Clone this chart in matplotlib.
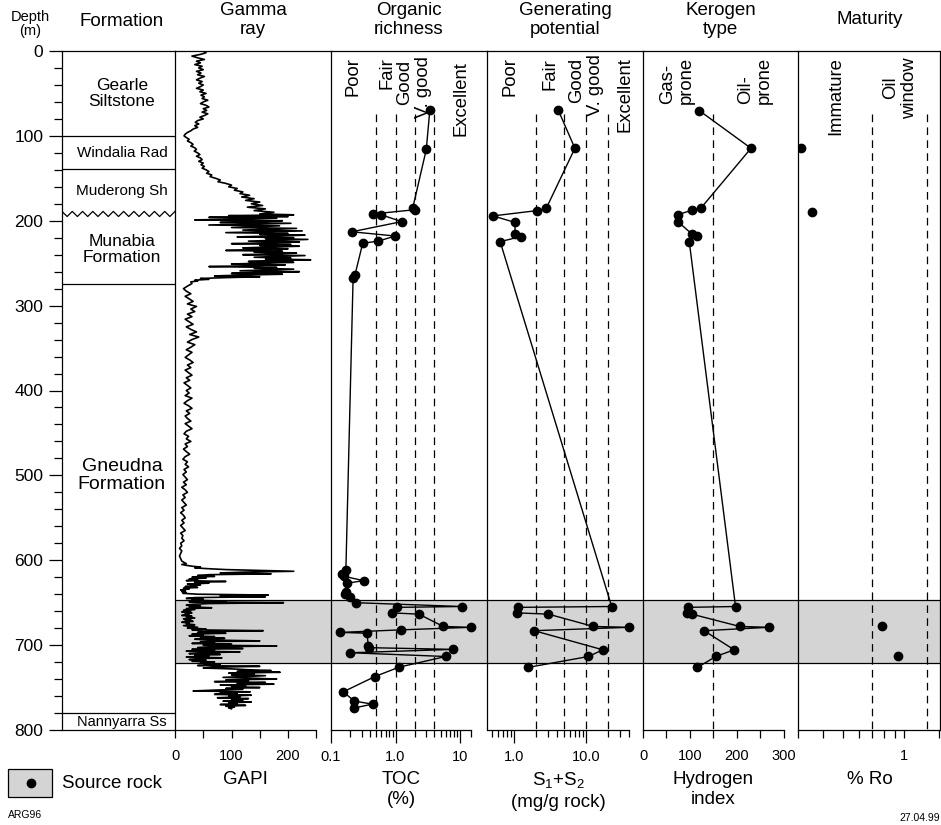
import numpy as np
import matplotlib.pyplot as plt
from matplotlib.patches import Rectangle
from matplotlib.lines import Line2D

plt.rcParams['font.family'] = ['Liberation Sans', 'DejaVu Sans']
plt.rcParams['mathtext.fontset'] = 'custom'
plt.rcParams['mathtext.rm'] = 'Liberation Sans'
plt.rcParams['lines.scale_dashes'] = False

# ---------------- data ----------------
formation_names = ['Gearle\nSiltstone', 'Windalia Rad', 'Muderong Sh',
                   'Munabia\nFormation', 'Gneudna\nFormation', 'Nannyarra Ss']
formation_tops = [0, 100, 139, 192, 275, 780]
formation_label_depth = [50, 120, 165, 234, 500, 790]
formation_font = [12.5, 11, 11, 12.5, 14, 10.5]
unconformity_depth = 192

source_rock_top, source_rock_base = 647, 721

# gamma ray log (GAPI), sampled in blocks: (start depth, step, values)
gr_a_start, gr_a_step = 0, 2
gr_a = [50, 55, 45, 30, 40, 52, 38, 45, 35, 48, 42, 50, 38, 46, 40, 52, 44, 38, 48, 42,
        50, 45, 38, 50, 44, 55, 46, 52, 48, 58, 50, 45, 55, 60, 50, 56, 48, 58, 52, 44,
        50, 40, 36, 42, 35, 40, 32, 28, 22, 18, 16, 20, 25, 22, 28, 32, 28, 35, 38, 34,
        40, 44, 38, 45, 48, 42, 50, 46, 52, 48, 55, 60, 56, 65, 62, 72, 80, 76, 90, 100,
        95, 110, 105, 120, 115, 132, 118, 140, 125, 150, 135, 155, 128, 160, 140, 175, 150]
gr_b_start, gr_b_step = 193, 1
gr_b = [210, 95, 200, 60, 180, 120, 35, 190, 150, 80, 205, 130, 60, 185, 140, 100, 215, 170,
        120, 225, 160, 90, 200, 150, 230, 175, 110, 210, 160, 235, 180, 130, 220, 170, 100,
        205, 150, 220, 165, 120, 200, 150, 90, 190, 140, 215, 175, 120, 230, 185, 140, 205,
        160, 240, 170, 130, 210, 150, 100, 195, 135, 60, 180, 140, 210, 160, 115, 220, 150,
        100, 190, 120, 70, 150, 90, 45, 60, 35, 40, 28]
gr_c_start, gr_c_step = 274, 3
gr_c = [30, 22, 15, 20, 28, 18, 25, 32, 22, 38, 28, 35, 22, 30, 18, 25, 32, 20, 28, 38,
        26, 42, 30, 22, 35, 28, 20, 30, 24, 18, 26, 32, 22, 28, 18, 24, 30, 20, 26, 16,
        22, 28, 20, 25, 18, 30, 22, 16, 24, 30, 20, 26, 18, 22, 28, 18, 24, 30, 20, 16,
        24, 20, 28, 18, 22, 15, 20, 26, 18, 14, 22, 18, 24, 16, 20, 14, 18, 22, 15, 20,
        12, 18, 22, 14, 18, 12, 16, 20, 12, 16, 10, 15, 18, 12, 16, 10, 14, 18, 10, 14,
        12, 16, 10, 12, 8, 12, 10, 8, 10, 12, 20]
gr_d_start, gr_d_step = 605, 1
gr_d = [12, 20, 30, 45, 35, 60, 90, 150, 210, 120, 80, 170, 60, 40, 70, 30, 55, 25, 40, 20,
        90, 35, 60, 22, 45, 30, 18, 40, 15, 25, 10, 18, 12, 20, 14, 40, 165, 80, 160, 35,
        20, 50, 30, 90, 25, 192, 60, 30, 20, 45, 25, 65, 20, 35, 15, 28, 12, 30, 18, 25,
        12, 30, 20, 35, 15, 28, 18, 32, 12, 25, 20, 35, 15, 28, 40, 22, 55, 30, 156, 60,
        40, 90, 30, 50, 25, 70, 45, 88, 35, 60, 150, 45, 70, 30, 100, 50, 180, 60, 40, 120,
        30, 70, 20, 115, 45, 25, 80, 35, 60, 20, 83, 40, 25, 55, 30, 70, 45, 60, 80, 40,
        150, 70, 50, 100, 130, 170, 110, 186, 95, 140, 100, 160, 120, 85, 140, 180, 90, 130,
        70, 160, 110, 175, 80, 125, 100, 150, 90, 120, 70, 32, 133, 80, 110, 70, 135, 95,
        115, 75, 130, 100, 120, 85, 135, 95, 110, 80, 125, 90, 105, 95, 100]

# organic richness, TOC (%)
toc_depth = [70, 116, 185, 187, 192, 193, 201, 213, 218, 224, 226.5, 264, 268,
             612, 616, 619, 624, 627, 637, 640, 643, 650,
             654.5, 655.5, 662, 663.5, 678, 679, 682, 685, 686, 701, 703, 705,
             709, 713.4, 726, 737, 755, 766, 769.5, 774]
toc = [3.4, 3.0, 1.85, 2.0, 0.45, 0.6, 1.25, 0.21, 0.99, 0.54, 0.31, 0.235, 0.22,
       0.17, 0.15, 0.16, 0.32, 0.18, 0.17, 0.165, 0.2, 0.24,
       10.6, 1.07, 0.87, 2.3, 5.5, 14.7, 1.22, 0.14, 0.36, 0.38, 0.39, 7.9,
       0.2, 6.0, 1.13, 0.48, 0.155, 0.23, 0.44, 0.23]
toc_limits = [0.5, 1, 2, 4]
toc_classes = ['Poor', 'Fair', 'Good', 'V. good', 'Excellent']

# generating potential, S1+S2 (mg/g rock)
s12_depth = [69.5, 114.6, 185.3, 188, 194.3, 202, 216, 218.7, 224.6,
             654.5, 655.5, 662, 663.5, 678, 679, 683, 705.5, 713.4, 726.3]
s12 = [4.1, 7.0, 2.8, 2.1, 0.51, 1.03, 1.03, 1.24, 0.64,
       22.7, 1.13, 1.09, 3.0, 12.6, 39.2, 1.9, 17.1, 10.8, 1.55]
s12_limits = [2, 5, 10, 20]
s12_classes = ['Poor', 'Fair', 'Good', 'V. good', 'Excellent']

# kerogen type, hydrogen index
hi_depth = [70.3, 114.6, 185.3, 187.3, 193, 201, 215.5, 218, 224.6,
            654.5, 655.5, 661.6, 663.5, 678, 679, 683, 705.5, 713.4, 726.3]
hi = [120, 230, 123, 105, 74, 74, 104, 114, 98.5,
      197, 95, 93, 104, 206, 268, 130, 194, 155, 116]
hi_limit = 150

# maturity, vitrinite reflectance (% Ro)
ro_depth = [114, 190, 678, 713]
ro = [0.31, 0.35, 0.78, 0.94]
ro_limits = [0.7, 1.3]

# ---------------- figure ----------------
W, H = 941, 825
TOP, BOT = 51, 730
fig = plt.figure(figsize=(W / 100, H / 100), dpi=100)


def fx(px):
    return px / W


def fy(py):
    return 1 - py / H


def panel(x0, x1):
    return fig.add_axes([fx(x0), fy(BOT), (x1 - x0) / W, (BOT - TOP) / H])


LW = 0.9
GREY = '#d4d4d4'
DASH = (0, (5.5, 3.8))

ax_f = panel(62, 175)
ax_g = panel(175, 331)
ax_t = panel(331, 487)
ax_s = panel(487, 643)
ax_h = panel(643, 798)
ax_r = panel(798, 940)
tracks = [ax_g, ax_t, ax_s, ax_h, ax_r]

for ax in [ax_f] + tracks:
    ax.set_ylim(800, 0)
    ax.patch.set_alpha(0)
    for s in ax.spines.values():
        s.set_linewidth(LW)
    ax.spines['right'].set_visible(ax is ax_r)
    ax.tick_params(axis='x', which='both', direction='out', width=LW,
                   labelsize=10.5, pad=8)
    if ax is not ax_f:
        ax.set_yticks([])

for ax in tracks:
    ax.axhspan(source_rock_top, source_rock_base, facecolor=GREY,
               edgecolor='none', zorder=0)
    ax.axhline(source_rock_top, color='k', lw=LW, zorder=1)
    ax.axhline(source_rock_base, color='k', lw=LW, zorder=1)

# depth axis + formation column
ax_f.set_xlim(0, 1)
ax_f.set_xticks([])
ax_f.set_yticks(range(0, 801, 100))
ax_f.set_yticks(range(0, 801, 20), minor=True)
ax_f.tick_params(axis='y', which='major', length=9.5, width=LW, labelsize=12.5, pad=4)
ax_f.tick_params(axis='y', which='minor', length=6, width=LW)
for top in formation_tops[1:]:
    if top == unconformity_depth:
        continue
    ax_f.axhline(top, color='k', lw=LW)
zig_x = np.linspace(0, 1, 23)
zig_y = unconformity_depth + np.where(np.arange(23) % 2 == 0, -3, 3)
ax_f.plot(zig_x, zig_y, color='k', lw=LW)
for name, d, fs in zip(formation_names, formation_label_depth, formation_font):
    ax_f.text(0.53, d, name, ha='center', va='center', fontsize=fs, linespacing=1.05)

# gamma ray
gr_depth = np.concatenate([gr_a_start + gr_a_step * np.arange(len(gr_a)),
                           gr_b_start + gr_b_step * np.arange(len(gr_b)),
                           gr_c_start + gr_c_step * np.arange(len(gr_c)),
                           gr_d_start + gr_d_step * np.arange(len(gr_d))])
gr = np.concatenate([gr_a, gr_b, gr_c, gr_d])
ax_g.plot(gr, gr_depth, color='k', lw=1.2, zorder=3)
ax_g.set_xlim(0, 276)
ax_g.spines['bottom'].set_bounds(0, 250)
ax_g.set_xticks([0, 100, 200])
ax_g.set_xticks([50, 150, 250], minor=True)
ax_g.tick_params(axis='x', which='both', length=6)

# TOC
ax_t.set_xscale('log')
ax_t.set_xlim(0.1, 26.2)
ax_t.spines['bottom'].set_bounds(0.1, 15)
ax_t.set_xticks([0.1, 1, 10])
ax_t.set_xticklabels(['0.1', '1.0', '10'])
ax_t.set_xticks([v * m for m in (0.1, 1) for v in range(2, 10)] + [15], minor=True)
ax_t.xaxis.set_minor_formatter(plt.NullFormatter())
ax_t.tick_params(axis='x', which='major', length=9, pad=5.5)
ax_t.tick_params(axis='x', which='minor', length=5)
for v in toc_limits:
    ax_t.plot([v, v], [74, 800], color='k', lw=LW, ls=DASH, zorder=2)
ax_t.plot(toc, toc_depth, '-o', color='k', lw=1.0, ms=6, zorder=4)

# S1+S2
ax_s.set_xscale('log')
ax_s.set_xlim(0.42, 61.9)
ax_s.spines['bottom'].set_bounds(0.44, 40)
ax_s.set_xticks([1, 10])
ax_s.set_xticklabels(['1.0', '10.0'])
ax_s.set_xticks([0.5, 0.6, 0.7, 0.8, 0.9] + list(range(2, 10)) + [20, 30, 40], minor=True)
ax_s.xaxis.set_minor_formatter(plt.NullFormatter())
ax_s.tick_params(axis='x', which='major', length=9, pad=5.5)
ax_s.tick_params(axis='x', which='minor', length=5)
for v in s12_limits:
    ax_s.plot([v, v], [74, 800], color='k', lw=LW, ls=DASH, zorder=2)
ax_s.plot(s12, s12_depth, '-o', color='k', lw=1.0, ms=6, zorder=4)

# hydrogen index
ax_h.set_xlim(0, 330)
ax_h.spines['bottom'].set_bounds(0, 300)
ax_h.set_xticks([0, 100, 200, 300])
ax_h.set_xticks([50, 150, 250], minor=True)
ax_h.tick_params(axis='x', which='both', length=6)
ax_h.plot([hi_limit, hi_limit], [74, 800], color='k', lw=LW, ls=DASH, zorder=2)
ax_h.plot(hi, hi_depth, '-o', color='k', lw=1.0, ms=6, zorder=4)

# vitrinite reflectance
ax_r.set_xscale('log')
ax_r.set_xlim(0.3, 1.51)
ax_r.set_xticks([1])
ax_r.set_xticklabels(['1'])
ax_r.set_xticks([0.3, 0.4, 0.5, 0.6, 0.7, 0.8, 0.9, 1.5], minor=True)
ax_r.xaxis.set_minor_formatter(plt.NullFormatter())
ax_r.tick_params(axis='x', which='both', length=6)
for v in ro_limits:
    ax_r.plot([v, v], [74, 800], color='k', lw=LW, ls=DASH, zorder=2)
ax_r.plot(ro, ro_depth, 'o', color='k', ms=6, zorder=4)

# column headers
fig.text(fx(30), fy(24), 'Depth\n(m)', ha='center', va='center', fontsize=10.5,
         linespacing=1.05)
fig.text(fx(122), fy(21), 'Formation', ha='center', va='center', fontsize=13.5)
for xc, txt in [(253, 'Gamma\nray'), (409, 'Organic\nrichness'),
                (565, 'Generating\npotential'), (720.5, 'Kerogen\ntype'),
                (869.5, 'Maturity')]:
    fig.text(fx(xc), fy(20), txt, ha='center', va='center', fontsize=13.5)

# class labels
for (xc, yc), txt in zip([(353, 76.5), (387, 73.5), (405, 82), (423, 87), (461, 98.5)],
                         toc_classes):
    fig.text(fx(xc), fy(yc), txt, rotation=90, ha='center', va='center', fontsize=13.3)
for (xc, yc), txt in zip([(510, 76.5), (550, 74), (577, 80.5), (596, 85), (625, 95)],
                         s12_classes):
    fig.text(fx(xc), fy(yc), txt, rotation=90, ha='center', va='center', fontsize=13.3)
fig.text(fx(677), fy(80), 'Gas-\nprone', rotation=90, ha='center', va='center',
         fontsize=13.3, multialignment='left', linespacing=1.1)
fig.text(fx(755), fy(80.5), 'Oil-\nprone', rotation=90, ha='center', va='center',
         fontsize=13.3, multialignment='left', linespacing=1.1)
fig.text(fx(836), fy(96), 'Immature', rotation=90, ha='center', va='center', fontsize=13.3)
fig.text(fx(900), fy(88), 'Oil\nwindow', rotation=90, ha='center', va='center',
         fontsize=13.3, multialignment='center', linespacing=1.1)

# axis titles
for xc, txt in [(245.6, 'GAPI'), (401.5, 'TOC\n(%)'), (558, 'S$_1$+S$_2$\n(mg/g rock)'),
                (713.5, 'Hydrogen\nindex'), (869.5, '% Ro')]:
    fig.text(fx(xc), fy(771), txt, ha='center', va='top', fontsize=13.5)

# legend
fig.add_artist(Rectangle((fx(8), fy(797)), 44 / W, 28 / H, transform=fig.transFigure,
                         facecolor=GREY, edgecolor='k', lw=LW))
fig.add_artist(Line2D([fx(31)], [fy(783)], marker='o', color='k', ms=6,
                      transform=fig.transFigure))
fig.text(fx(62), fy(783), 'Source rock', ha='left', va='center', fontsize=13.5)
fig.text(fx(8), fy(815), 'ARG96', ha='left', va='center', fontsize=7.5)
fig.text(fx(940), fy(818), '27.04.99', ha='right', va='center', fontsize=7.5)

fig.savefig('out.png', dpi=100)
